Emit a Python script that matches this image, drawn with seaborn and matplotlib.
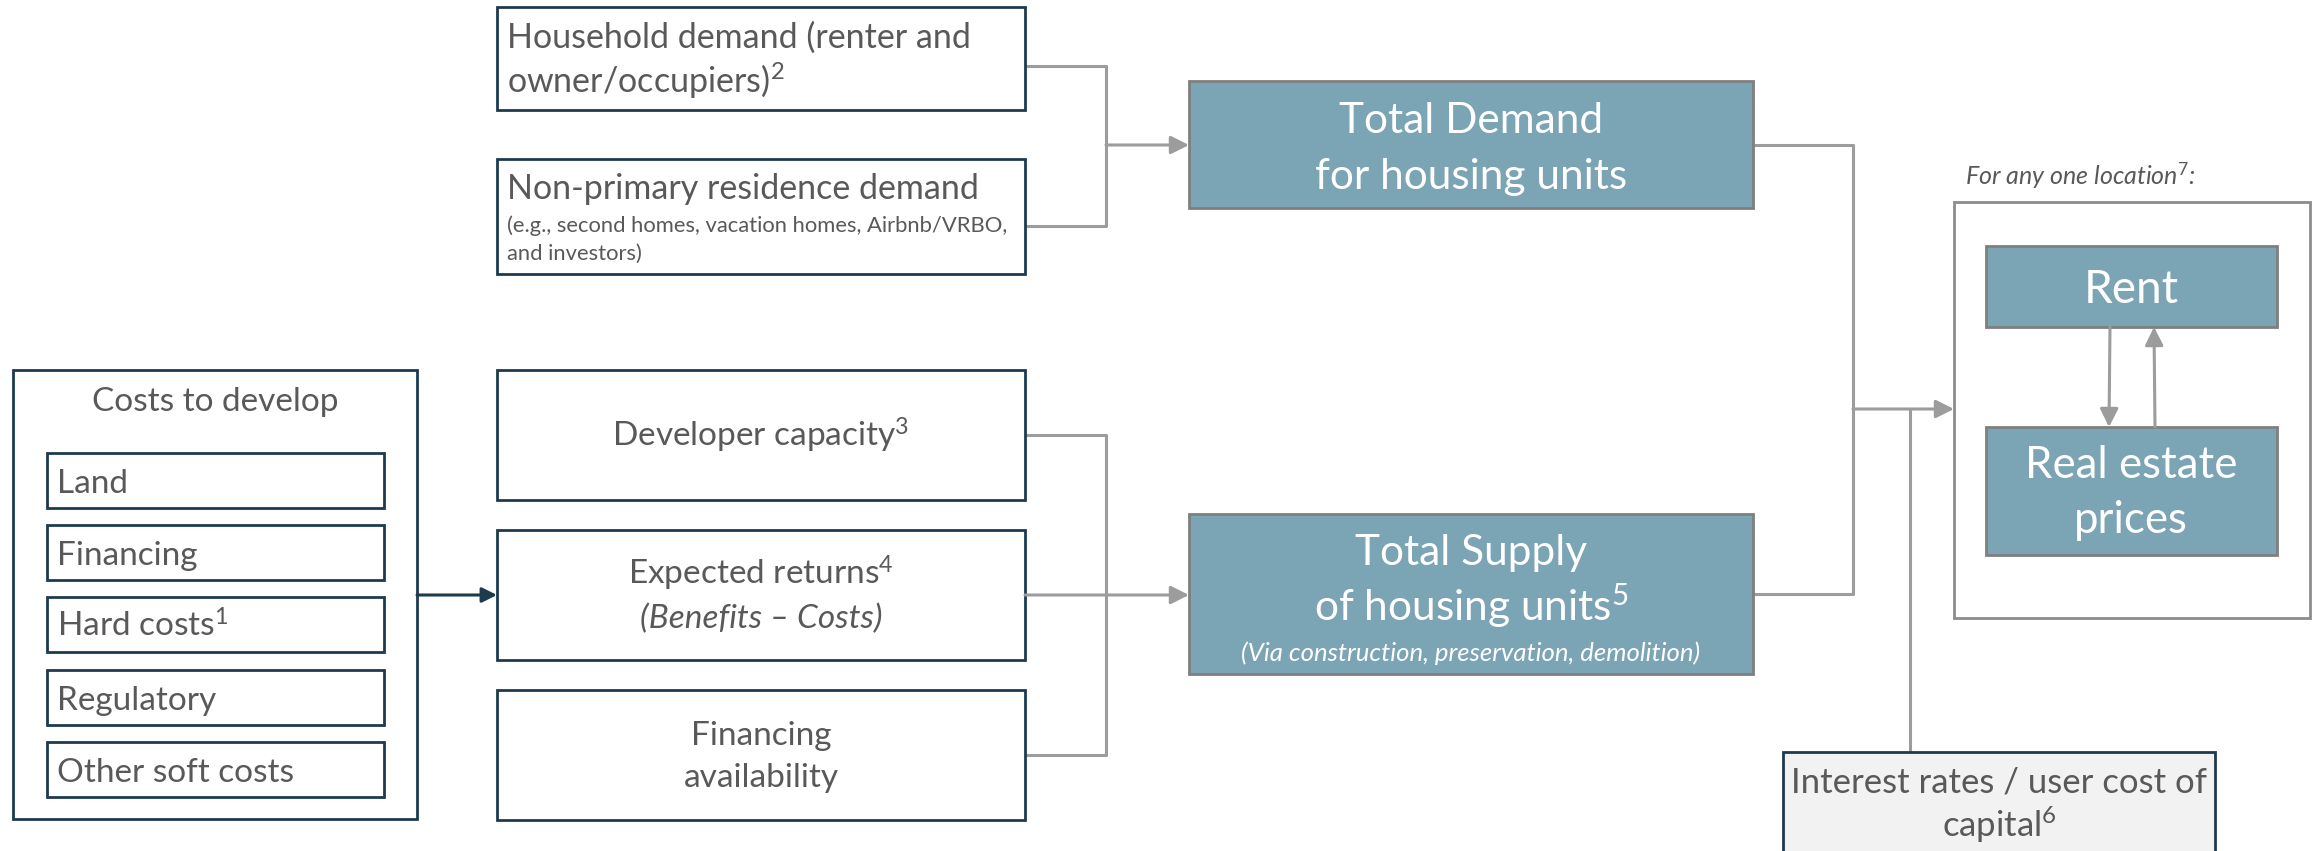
import matplotlib.pyplot as plt
import seaborn as sns
from matplotlib.patches import Rectangle, FancyArrowPatch

sns.set_theme(style='white')
plt.rcParams['font.family'] = ['Lato', 'DejaVu Sans']
plt.rcParams['mathtext.fontset'] = 'custom'
plt.rcParams['mathtext.rm'] = 'Lato'
plt.rcParams['mathtext.it'] = 'Lato:italic'

# text content
cost_title = 'Costs to develop'
cost_items = ['Land', 'Financing', 'Hard costs$^{1}$', 'Regulatory', 'Other soft costs']
household_lines = ['Household demand (renter and', 'owner/occupiers)$^{2}$']
nonprimary_main = 'Non-primary residence demand'
nonprimary_note = ['(e.g., second homes, vacation homes, Airbnb/VRBO,', 'and investors)']
supply_inputs = [['Developer capacity$^{3}$'],
                 ['Expected returns$^{4}$', '(Benefits \u2013 Costs)'],
                 ['Financing', 'availability']]
demand_lines = ['Total Demand', 'for housing units']
supply_lines = ['Total Supply', 'of housing units$^{5}$']
supply_note = '(Via construction, preservation, demolition)'
location_note = 'For any one location$^{7}$:'
rent_label = 'Rent'
price_lines = ['Real estate', 'prices']
rate_lines = ['Interest rates / user cost of', 'capital$^{6}$']

# colours
teal = '#7BA4B5'
teal_edge = '#7F7F7F'
navy = '#1C3B4F'
grey_line = '#9C9C9C'
txt = '#595959'

fig = plt.figure(figsize=(23.18, 8.51), dpi=100)
ax = fig.add_axes([0, 0, 1, 1])
ax.set_xlim(0, 2318)
ax.set_ylim(851, 0)
ax.axis('off')


def box(x0, y0, x1, y1, fc='white', ec=navy, lw=2.0):
    ax.add_patch(Rectangle((x0, y0), x1 - x0, y1 - y0, facecolor=fc,
                           edgecolor=ec, lw=lw, zorder=3))


def line(xs, ys, color=grey_line, lw=2.2):
    ax.plot(xs, ys, color=color, lw=lw, solid_capstyle='butt', zorder=2)


def arrow(p0, p1, color=grey_line, lw=2.2, hl=1.1, hw=0.55):
    ax.add_patch(FancyArrowPatch(p0, p1, arrowstyle=f'-|>,head_length={hl},head_width={hw}',
                                 mutation_scale=10, color=color, lw=lw,
                                 shrinkA=0, shrinkB=0, zorder=4))


def label(x, y, s, size, ha='center', color=txt, style='normal'):
    ax.text(x, y, s, ha=ha, va='baseline', fontsize=size, color=color,
            fontstyle=style, fontweight='normal', zorder=5)


# connectors
line([1025, 1106, 1106, 1025], [66, 66, 226, 226])
arrow((1106, 145), (1189, 145))
line([1025, 1106, 1106, 1025], [435, 435, 755, 755])
arrow((1025, 595), (1189, 595))
arrow((417, 595), (497, 595), color=navy, hl=0.9, hw=0.45)
line([1753, 1853, 1853, 1753], [145, 145, 594, 594])
arrow((1853, 409), (1954, 409))
line([1910, 1910], [409, 752])
arrow((2110, 327), (2109, 427))
arrow((2155, 427), (2154, 327))

# cost box
box(13, 370, 417, 819)
label(215, 411, cost_title, 24)
cost_tops = [453, 525, 597, 670, 742]
cost_base = [493, 565, 637, 710, 782]
for top, base, item in zip(cost_tops, cost_base, cost_items):
    box(47, top, 384, top + 55)
    label(57, base, item, 24, ha='left')

# demand inputs
box(497, 7, 1025, 110)
label(507, 48, household_lines[0], 24.5, ha='left')
label(507, 93, household_lines[1], 24.5, ha='left')
box(497, 159, 1025, 274)
label(507, 199, nonprimary_main, 24.5, ha='left')
label(507, 232, nonprimary_note[0], 15.8, ha='left')
label(507, 260, nonprimary_note[1], 15.8, ha='left')

# supply inputs
in_tops = [370, 530, 690]
in_base = [[447], [585, 628], [745, 787]]
for top, bases, lines_ in zip(in_tops, in_base, supply_inputs):
    box(497, top, 1025, top + 130)
    for b, s in zip(bases, lines_):
        sty = 'italic' if s.startswith('(') else 'normal'
        label(761, b, s, 24, style=sty)

# totals
box(1189, 81, 1753, 208, fc=teal, ec=teal_edge)
label(1471, 133, demand_lines[0], 30.5, color='white')
label(1471, 189, demand_lines[1], 30.5, color='white')
box(1189, 514, 1753, 674, fc=teal, ec=teal_edge)
label(1471, 565, supply_lines[0], 30.5, color='white')
label(1471, 621, supply_lines[1], 30.5, color='white')
label(1471, 661, supply_note, 18.5, color='white', style='italic')

# location panel
label(1965, 185, location_note, 18, ha='left', style='italic')
box(1954, 202, 2310, 618, ec='#8C8C8C')
box(1986, 246, 2277, 327, fc=teal, ec=teal_edge)
label(2131, 303, rent_label, 33, color='white')
box(1986, 427, 2277, 555, fc=teal, ec=teal_edge)
label(2131, 478, price_lines[0], 31.5, color='white')
label(2131, 533, price_lines[1], 31.5, color='white')

# interest rates
box(1783, 752, 2215, 880, fc='#F2F2F2')
label(1999, 793, rate_lines[0], 25)
label(1999, 837, rate_lines[1], 25)

fig.savefig('out.png', dpi=100)
